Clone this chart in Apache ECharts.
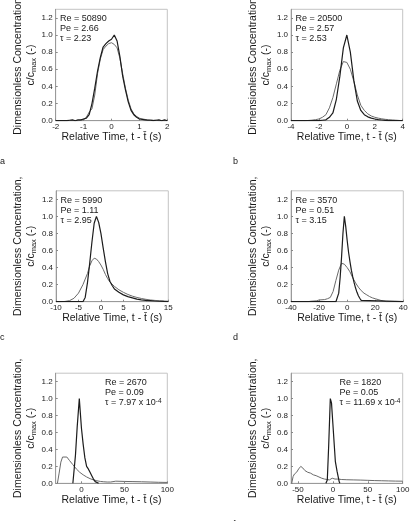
<!DOCTYPE html>
<html>
<head>
<meta charset="utf-8">
<style>
  html, body { margin: 0; padding: 0; background: #fff; }
  #chart { width: 412px; height: 521px; }
</style>
<script src="https://cdn.jsdelivr.net/npm/echarts@6/dist/echarts.min.js"></script>
</head>
<body>
<div id="chart"></div>
<script>
// ── Values (t - t̄ in s, c/cmax) ─────────────────────────────────────────────
// dark = tall narrow trace (peak 1.0), light = the grey, wider trace
const aTime = [-2.0,-1.9,-1.8,-1.7,-1.6,-1.5,-1.4,-1.3,-1.2,-1.1,-1.0,-0.9,-0.8,-0.7,-0.6,-0.5,-0.4,-0.3,-0.2,-0.1,0,0.1,0.2,0.3,0.4,0.5,0.6,0.7,0.8,0.9,1.0,1.1,1.2,1.3,1.4,1.5,1.6,1.7,1.8,1.9,2.0];
const aDark  = [0,0,0,0,0,0.005,0.01,0,0.01,0.01,0.02,0.03,0.07,0.2,0.38,0.58,0.74,0.86,0.9,0.93,0.95,1.0,0.93,0.75,0.52,0.36,0.22,0.12,0.07,0.04,0.02,0.015,0.01,0.005,0.005,0,0.005,0.01,0,0.01,0];
const aLight = [0,0,0,0,0,0,0,0,0,0.005,0.01,0.04,0.1,0.14,0.3,0.55,0.72,0.83,0.87,0.9,0.91,0.89,0.85,0.73,0.55,0.38,0.24,0.14,0.08,0.05,0.03,0.02,0.015,0.01,0.008,0.005,0.005,0,0,0,0];

const bTime = [-4,-3.75,-3.5,-3.25,-3,-2.75,-2.5,-2.25,-2,-1.75,-1.5,-1.25,-1,-0.75,-0.5,-0.25,0,0.25,0.5,0.75,1,1.25,1.5,1.75,2,2.25,2.5,2.75,3,3.25,3.5,3.75,4];
const bDark  = [0,0,0,0,0,0,0,0,0,0.005,0.01,0.04,0.09,0.25,0.52,0.85,1.0,0.8,0.47,0.23,0.12,0.07,0.045,0.03,0.02,0.012,0.008,0.004,0,0,0,0,0];
const bLight = [0,0,0,0,0,0.003,0.006,0.012,0.02,0.04,0.07,0.15,0.27,0.43,0.59,0.69,0.68,0.6,0.46,0.3,0.18,0.12,0.08,0.055,0.04,0.03,0.022,0.016,0.012,0.009,0.006,0.003,0];

const cDarkTime  = [-10,-8,-6,-5,-4,-3.5,-3,-2.5,-2,-1.5,-1,-0.5,0,0.5,1,1.5,2,2.5,3,4,5,6,7,8,9,10,11,12,13,14,15];
const cDark      = [0,0,0,0,0,0.05,0.22,0.45,0.7,0.92,1.0,0.93,0.8,0.63,0.47,0.33,0.24,0.19,0.15,0.11,0.08,0.06,0.045,0.03,0.022,0.016,0.012,0.008,0.005,0.003,0.002];
const cLightTime = [-10,-9,-8,-7,-6,-5,-4,-3,-2.5,-2,-1.5,-1,-0.5,0,0.5,1,1.5,2,3,4,5,6,7,8,9,10,11,12,13,14,15];
const cLight     = [0,0,0.003,0.012,0.04,0.1,0.2,0.33,0.42,0.48,0.51,0.5,0.47,0.43,0.38,0.32,0.27,0.23,0.18,0.14,0.11,0.085,0.065,0.05,0.038,0.028,0.02,0.015,0.011,0.008,0.005];

const dDarkTime  = [-40,-10,-8,-7,-6,-5,-4,-3,-2,-1,0,1,2,3,4,5,6,7,8,9,10,11,40];
const dDark      = [0,0,0,0.02,0.1,0.28,0.52,0.8,1.0,0.88,0.72,0.58,0.47,0.37,0.29,0.22,0.16,0.11,0.07,0.04,0.015,0,0];
const dLightTime = [-40,-28,-26,-22,-20,-16,-14,-12,-10,-8,-6,-4,-2,0,2,4,6,8,10,12,14,16,18,20,22,24,26,28,40];
const dLight     = [0,0,0.005,0.01,0.02,0.025,0.035,0.05,0.12,0.25,0.37,0.45,0.44,0.4,0.35,0.28,0.22,0.17,0.13,0.1,0.08,0.06,0.045,0.035,0.025,0.015,0.008,0,0];

const eDarkTime  = [-10,-9,-7,-5,-2.5,0,2,4,6,8,10,12,14,16,18,20];
const eDark      = [0,0.02,0.33,0.66,1.0,0.65,0.46,0.3,0.2,0.17,0.13,0.09,0.05,0.02,0.005,0];
const eLightTime = [-28,-26,-24,-22,-20,-17,-14,-10,-6,-2,2,6,10,14,18,22,26,30,34,36,40,50,60,70,80,90,100];
const eLight     = [0,0.12,0.25,0.31,0.33,0.31,0.27,0.22,0.17,0.13,0.1,0.075,0.055,0.04,0.03,0.022,0.018,0.015,0.015,0.025,0.025,0.022,0.02,0.018,0.015,0.012,0.01];

const fDarkTime  = [-10,-8,-6,-3.7,-2,0,2,3.5,6,9,10];
const fDark      = [0,0.04,0.45,1.0,0.95,0.7,0.45,0.26,0.14,0.02,0];
const fLightTime = [-59,-57,-55,-52,-49,-46,-43,-40,-36,-32,-28,-24,-20,-16,-12,-8,-5,-3,-1,1,3,5,8,12,20,30,40,50,60,70,80,90,100];
const fLight     = [0,0.08,0.11,0.13,0.17,0.2,0.18,0.15,0.13,0.12,0.1,0.09,0.075,0.06,0.05,0.045,0.04,0.05,0.06,0.055,0.05,0.06,0.05,0.045,0.042,0.04,0.038,0.035,0.032,0.03,0.028,0.026,0.025];

// annotation values per panel
const reValues  = ['50890', '20500', '5990', '3570', '2670', '1820'];
const peValues  = ['2.66', '2.57', '1.11', '0.51', '0.09', '0.05'];
const tauValues = ['2.23', '2.53', '2.95', '3.15', '7.97 x 10', '11.69 x 10'];
const tauExp    = ['', '', '', '', '-4', '-4'];
const panelLetters = ['a', 'b', 'c', 'd', 'e', 'f'];

// x axis ranges / tick values
const xMins  = [-2, -4, -10, -40, -30, -60];
const xMaxs  = [2, 4, 15, 40, 100, 100];
const xTicks = [
  [-2, -1, 0, 1, 2],
  [-4, -2, 0, 2, 4],
  [-10, -5, 0, 5, 10, 15],
  [-40, -20, 0, 20, 40],
  [0, 50, 100],
  [-50, 0, 50, 100],
];
const yTicks = [0, 0.2, 0.4, 0.6, 0.8, 1.0, 1.2];

// ── Layout ──────────────────────────────────────────────────────────────────
const FONT = '"Liberation Sans", Arial, Helvetica, sans-serif';
const INK = '#1a1a1a';
const DARK_LINE = '#1c1c1c';
const LIGHT_LINE = '#6a6a6a';

// plot rectangles, px
const boxes = [
  { left: 55.7, top: 9.3,   width: 111.6, height: 111.4 },
  { left: 291,  top: 9.3,   width: 111.7, height: 111.4 },
  { left: 56,   top: 190.8, width: 112.3, height: 110.9 },
  { left: 291,  top: 190.8, width: 112.3, height: 110.9 },
  { left: 55.7, top: 373.2, width: 111.6, height: 110.1 },
  { left: 291,  top: 373.2, width: 111.7, height: 110.1 },
];
// where the Re/Pe/τ block sits (top-left of block)
const notePos = [
  [60, 13], [295.5, 13], [60.5, 195], [295.5, 195], [105, 377], [339.5, 377],
];
const letterPos = [[0, 162], [233, 162], [0, 337.5], [233, 337.5], [0, 525], [233, 525]];

const seriesData = [
  [aTime, aLight, aTime, aDark],
  [bTime, bLight, bTime, bDark],
  [cLightTime, cLight, cDarkTime, cDark],
  [dLightTime, dLight, dDarkTime, dDark],
  [eLightTime, eLight, eDarkTime, eDark],
  [fLightTime, fLight, fDarkTime, fDark],
];

function pairs(xs, ys) {
  return xs.map((x, i) => [x, ys[i]]);
}

const grids = [], xAxes = [], yAxes = [], series = [], graphics = [];

boxes.forEach((b, i) => {
  grids.push({
    left: b.left, top: b.top, width: b.width, height: b.height,
    show: true, borderColor: '#c4c4c4', borderWidth: 1,
    containLabel: false, outerBoundsMode: 'none',
  });

  xAxes.push({
    type: 'value', gridIndex: i,
    min: xMins[i], max: xMaxs[i],
    axisLine: { onZero: false, lineStyle: { color: '#9a9a9a', width: 1 } },
    axisTick: { inside: true, length: 2, lineStyle: { color: '#888' }, customValues: xTicks[i] },
    axisLabel: {
      customValues: xTicks[i], fontSize: 8, margin: 2.5, color: INK, fontFamily: FONT,
    },
    splitLine: { show: false },
    name: 'Relative Time, t - t\u0304 (s)',
    nameLocation: 'middle',
    nameGap: i >= 4 ? 9.5 : (i >= 2 ? 10.5 : 10),
    nameTextStyle: { fontSize: 10.5, color: INK, fontFamily: FONT },
  });

  yAxes.push({
    type: 'value', gridIndex: i,
    min: 0, max: 1.3,
    axisLine: { show: true, onZero: false, lineStyle: { color: '#9a9a9a', width: 1 } },
    axisTick: { show: true, inside: true, length: 2, lineStyle: { color: '#888' }, customValues: yTicks },
    axisLabel: {
      customValues: yTicks, fontSize: 8, margin: 3, color: INK, fontFamily: FONT,
      formatter: (v) => v.toFixed(1),
    },
    splitLine: { show: false },
    name: '{t|Dimensionless Concentration,}\n{t|c/c}{s|max}{t| (-)}',
    nameLocation: 'middle',
    nameRotate: 90,
    nameGap: 14,
    nameTextStyle: {
      fontFamily: FONT, color: INK,
      rich: {
        t: { fontSize: 10.5, lineHeight: 13, fontFamily: FONT, color: INK },
        s: { fontSize: 7.5, lineHeight: 3, verticalAlign: 'bottom', fontFamily: FONT, color: INK },
      },
    },
  });

  const [lx, ly, dx, dy] = seriesData[i];
  series.push({
    type: 'line', xAxisIndex: i, yAxisIndex: i,
    data: pairs(lx, ly),
    showSymbol: false, smooth: false, silent: true, animation: false,
    lineStyle: { color: LIGHT_LINE, width: 1 },
    z: 2,
  });
  series.push({
    type: 'line', xAxisIndex: i, yAxisIndex: i,
    data: pairs(dx, dy),
    showSymbol: false, smooth: false, silent: true, animation: false,
    lineStyle: { color: DARK_LINE, width: 1.2 },
    z: 3,
  });

  // Re / Pe / τ block
  let tauLine = '{r|\u03c4 = ' + tauValues[i] + '}';
  if (tauExp[i]) tauLine += '{sup|' + tauExp[i] + '}';
  graphics.push({
    type: 'text', x: notePos[i][0], y: notePos[i][1], z: 10,
    style: {
      text: '{r|Re = ' + reValues[i] + '}\n{r|Pe = ' + peValues[i] + '}\n' + tauLine,
      verticalAlign: 'top', align: 'left',
      rich: {
        r: { fontSize: 9, lineHeight: 10.2, fontFamily: FONT, fill: INK },
        sup: { fontSize: 6.5, verticalAlign: 'top', fontFamily: FONT, fill: INK },
      },
    },
  });

  graphics.push({
    type: 'text', x: letterPos[i][0], y: letterPos[i][1],
    style: {
      text: panelLetters[i], fontSize: 9, fontFamily: FONT, fill: INK,
      verticalAlign: 'middle', align: 'left',
    },
  });
});

const chart = echarts.init(document.getElementById('chart'), null, { renderer: 'canvas' });
chart.setOption({
  backgroundColor: '#fff',
  animation: false,
  textStyle: { fontFamily: FONT },
  grid: grids,
  xAxis: xAxes,
  yAxis: yAxes,
  series: series,
  graphic: graphics,
});
</script>
</body>
</html>
